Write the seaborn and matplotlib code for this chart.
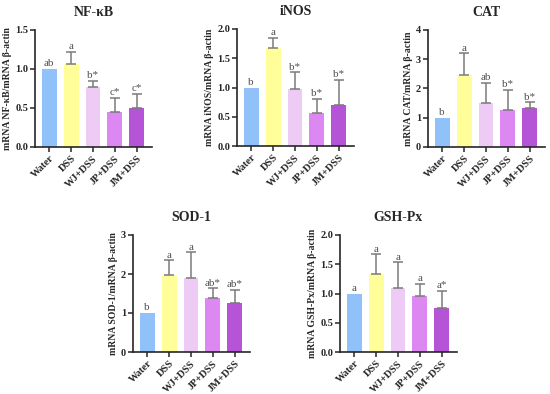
import numpy as np
import pandas as pd
import seaborn as sns
import matplotlib.pyplot as plt

# groups and colours
groups = ['Water', 'DSS', 'WJ+DSS', 'JP+DSS', 'JM+DSS']
colors = ['#90C1F9', '#FFFE99', '#EDCBF5', '#DD88F2', '#B554D6']

# NF-kB
nfkb_mean = [1.00, 1.06, 0.77, 0.45, 0.50]
nfkb_sd = [0.00, 0.16, 0.08, 0.18, 0.18]
nfkb_sig = ['ab', 'a', 'b*', 'c*', 'c*']

# iNOS
inos_mean = [1.00, 1.68, 0.98, 0.56, 0.70]
inos_sd = [0.00, 0.17, 0.28, 0.25, 0.43]
inos_sig = ['b', 'a', 'b*', 'b*', 'b*']

# CAT
cat_mean = [1.00, 2.45, 1.52, 1.28, 1.35]
cat_sd = [0.00, 0.75, 0.68, 0.67, 0.18]
cat_sig = ['b', 'a', 'ab', 'b*', 'b*']

# SOD-1
sod_mean = [1.00, 1.98, 1.90, 1.38, 1.25]
sod_sd = [0.00, 0.37, 0.66, 0.25, 0.35]
sod_sig = ['b', 'a', 'a', 'ab*', 'ab*']

# GSH-Px
gsh_mean = [1.00, 1.33, 1.10, 0.95, 0.75]
gsh_sd = [0.00, 0.34, 0.43, 0.22, 0.30]
gsh_sig = ['a', 'a', 'a', 'a', 'a*']

sns.set_style('ticks')
plt.rcParams['font.family'] = ['Liberation Serif', 'DejaVu Serif']
plt.rcParams['font.weight'] = 'bold'

fig = plt.figure(figsize=(5.5, 3.94), dpi=100)

panels = [
    ('NF-κB', nfkb_mean, nfkb_sd, nfkb_sig, [0, 0.5, 1.0, 1.5], '{:.1f}', [35, 30]),
    ('iNOS', inos_mean, inos_sd, inos_sig, [0, 0.5, 1.0, 1.5, 2.0], '{:.1f}', [237, 29]),
    ('CAT', cat_mean, cat_sd, cat_sig, [0, 1, 2, 3, 4], '{:.0f}', [428, 30]),
    ('SOD-1', sod_mean, sod_sd, sod_sig, [0, 1, 2, 3], '{:.0f}', [133, 235]),
    ('GSH-Px', gsh_mean, gsh_sd, gsh_sig, [0, 0.5, 1.0, 1.5, 2.0], '{:.1f}', [340, 235]),
]

W, H = 550, 394
aw, ah = 117, 117

for name, mean, sd, sig, yticks, fmt, (px, py) in panels:
    ax = fig.add_axes([px / W, 1 - (py + ah) / H, aw / W, ah / H])
    df = pd.DataFrame({'group': groups, 'value': mean})
    sns.barplot(data=df, x='group', y='value', hue='group', palette=colors,
                saturation=1, width=0.68, errorbar=None, legend=False,
                linewidth=0, ax=ax)
    x = np.arange(len(groups))
    m = np.array(mean)
    s = np.array(sd)
    has = s > 0
    # one-sided (upper) error bars, skipped where there is no spread
    ax.errorbar(x[has], m[has], yerr=[np.zeros(has.sum()), s[has]], fmt='none',
                ecolor='#7a7a7a', elinewidth=1.1, capsize=3.5, capthick=1.1)
    top = yticks[-1]
    for i in range(len(groups)):
        ax.text(x[i], m[i] + s[i] + top * 0.005, sig[i], ha='center',
                va='bottom', fontsize=8, color='#505050', fontweight='normal')
    ax.set_ylim(0, top)
    ax.set_xlim(-0.65, 4.7)
    ax.set_yticks(yticks)
    ax.set_yticklabels([fmt.format(t) for t in yticks], fontsize=7.5, fontweight='bold')
    ax.set_xticks(x)
    ax.set_xticklabels(groups, rotation=45, ha='right', rotation_mode='anchor',
                       fontsize=7.5, fontweight='bold')
    ax.set_xlabel('')
    ax.set_ylabel('mRNA ' + name + '/mRNA β-actin', fontsize=7, fontweight='bold', labelpad=2)
    ax.set_title(name, fontsize=10, fontweight='bold', pad=10)
    sns.despine(ax=ax)
    for sp in ['left', 'bottom']:
        ax.spines[sp].set_linewidth(1.2)
    ax.tick_params(axis='both', width=1.1, length=3.5, pad=1.5)

fig.savefig('out.png', dpi=100)
